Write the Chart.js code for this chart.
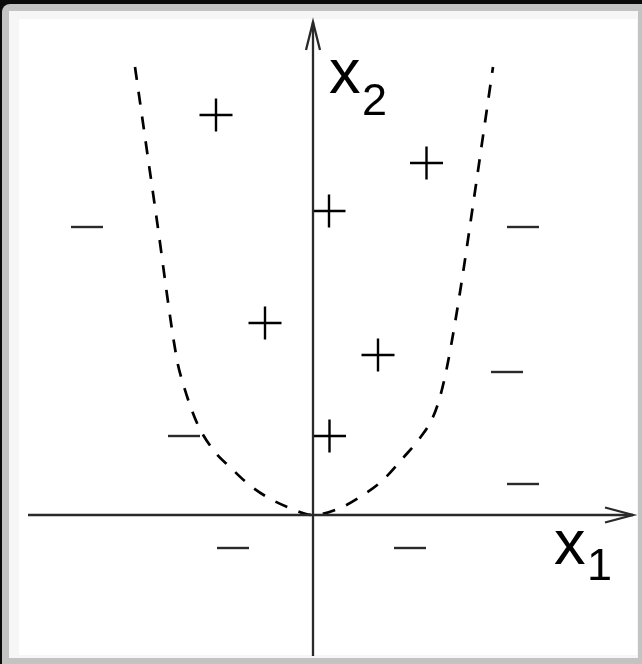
<!DOCTYPE html>
<html>
<head>
<meta charset="utf-8">
<script src="https://cdn.jsdelivr.net/npm/chart.js@4"></script>
<style>
  body { margin: 0; background: #0b0b0b; overflow: hidden; }
  .frame { position: absolute; left: 2px; top: 4px; width: 680px; height: 700px; background: #c3c3c3; border-radius: 8px; }
  .off { position: absolute; left: 9px; top: 11px; width: 629px; height: 647px; background: #f6f6f6; }
  .white { position: absolute; left: 19px; top: 19px; width: 618px; height: 636px; background: #ffffff; }
  canvas { position: absolute; left: 0; top: 0; }
</style>
</head>
<body>
<div class="frame"></div>
<div class="off"></div>
<div class="white"></div>
<canvas id="chart" width="642" height="664"></canvas>
<script>
// positive samples (x1, x2)
const plusX = [-0.97, 1.135, 0.16, -0.48, 0.65, 0.165]
const plusY = [4.00, 3.52, 3.04, 1.92, 1.60, 0.79]
// negative samples
const minusX = [-2.26, 2.10, 1.94, 2.10, -1.29, -0.80, 0.97]
const minusY = [2.88, 2.88, 1.43, 0.31, 0.79, -0.33, -0.33]
// dashed decision boundary
const curveX = [-1.78, -1.57, -1.36, -1.31, -1.16, -0.98, -0.83, -0.66, -0.46, -0.23, 0, 0.27, 0.50, 0.70, 0.90, 1.07, 1.20, 1.27, 1.34, 1.42, 1.50, 1.59, 1.80]
const curveY = [4.48, 3.01, 1.55, 1.35, 0.92, 0.63, 0.48, 0.32, 0.18, 0.07, 0, 0.07, 0.20, 0.35, 0.57, 0.77, 0.98, 1.18, 1.48, 1.92, 2.42, 3.03, 4.48]

function pts(xs, ys) {
  return xs.map((x, i) => ({ x: x, y: ys[i] }))
}

const axisColor = '#2a2a2a'

const labels = {
  id: 'axisLabels',
  afterDraw(chart) {
    const c = chart.ctx
    const sx = chart.scales.x, sy = chart.scales.y
    c.save()
    c.fillStyle = '#000'
    c.textBaseline = 'alphabetic'
    c.font = '63px "Liberation Sans", Arial, sans-serif'
    c.fillText('x', sx.getPixelForValue(2.41), sy.getPixelForValue(-0.49))
    c.fillText('x', sx.getPixelForValue(0.16), sy.getPixelForValue(4.22))
    c.font = '45px "Liberation Sans", Arial, sans-serif'
    c.fillText('1', sx.getPixelForValue(2.74), sy.getPixelForValue(-0.65))
    c.fillText('2', sx.getPixelForValue(0.49), sy.getPixelForValue(4.00))
    c.restore()
  }
}

new Chart(document.querySelector('#chart'), {
  type: 'scatter',
  data: {
    datasets: [
      {
        data: pts([-2.85, 3.20], [0, 0]),
        showLine: true, borderColor: axisColor, borderWidth: 2.3, pointRadius: 0
      },
      {
        data: pts([2.92, 3.20, 2.92], [0.075, 0, -0.075]),
        showLine: true, borderColor: axisColor, borderWidth: 2.3, pointRadius: 0
      },
      {
        data: pts([0, 0], [-1.41, 4.93]),
        showLine: true, borderColor: axisColor, borderWidth: 2.3, pointRadius: 0
      },
      {
        data: pts([-0.07, 0, 0.07], [4.65, 4.93, 4.65]),
        showLine: true, borderColor: axisColor, borderWidth: 2.3, pointRadius: 0
      },
      {
        data: pts(curveX, curveY),
        showLine: true, borderColor: '#000', borderWidth: 2.7, borderDash: [13, 12],
        cubicInterpolationMode: 'monotone', pointRadius: 0
      },
      {
        data: pts(plusX, plusY),
        pointStyle: 'cross', pointRadius: 16.5, borderColor: '#000', borderWidth: 2.4
      },
      {
        data: pts(minusX, minusY),
        pointStyle: 'line', pointRadius: 16, borderColor: '#2a2a2a', borderWidth: 2.4
      }
    ]
  },
  options: {
    responsive: false,
    animation: false,
    layout: { padding: 0, autoPadding: false },
    plugins: { legend: { display: false }, tooltip: { enabled: false } },
    scales: {
      x: { type: 'linear', min: -3.13, max: 3.29, display: false },
      y: { type: 'linear', min: -1.49, max: 5.15, display: false }
    },
    clip: false
  },
  plugins: [labels]
})
</script>
</body>
</html>
